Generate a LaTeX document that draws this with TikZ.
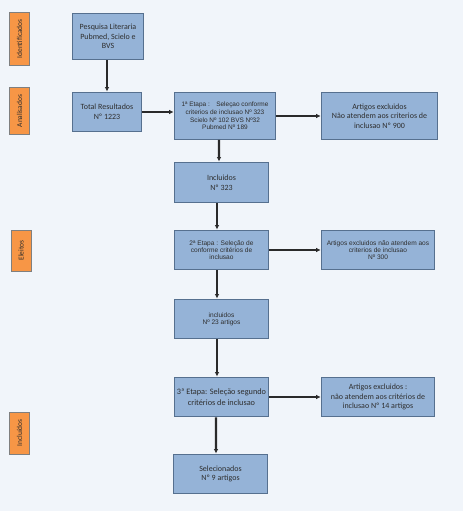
\documentclass[tikz,border=0pt]{standalone}
\usepackage{fontspec}
\setmainfont{Carlito}
\newfontfamily\arialf{Liberation Sans}
\usetikzlibrary{arrows.meta}
\definecolor{bg}{HTML}{F1F5FA}
\definecolor{bfill}{HTML}{95B3D7}
\definecolor{bdraw}{HTML}{56708F}
\definecolor{ofill}{HTML}{F79646}
\definecolor{odraw}{HTML}{7F7F7F}
\definecolor{txt}{HTML}{2E2E2E}
\definecolor{arr}{HTML}{2A2A2A}
\tikzset{
  bbox/.style={draw=bdraw, line width=1pt, fill=bfill, align=center, text=txt, inner sep=1pt, font=\fontsize{8}{9.7}\selectfont},
  abox/.style={bbox, font=\arialf\fontsize{6.6}{7.3}\selectfont},
  obox/.style={draw=odraw, line width=0.8pt, fill=ofill, align=center, text=txt, inner sep=0pt, rotate=90, font=\fontsize{7.5}{8}\selectfont},
  conn/.style={draw=arr, line width=2.4bp, -{Latex[length=4.5pt,width=4.5pt]}}
}
\begin{document}
\begin{tikzpicture}[x=1bp,y=-1bp]
\fill[bg] (0,0) rectangle (463,511);
\useasboundingbox (0,0) rectangle (463,511);
% orange stage labels
\node[obox, minimum width=54, minimum height=20] (s1) at (19.5,39) {Identificados};
\node[obox, minimum width=47, minimum height=20] (s2) at (19.5,111) {Analisados};
\node[obox, minimum width=41, minimum height=20] (s3) at (21,250.5) {Eleitos};
\node[obox, minimum width=42, minimum height=20] (s4) at (19.5,433) {Incluídos};
% blue boxes
\node[bbox, minimum width=72, minimum height=47] (n1) at (108,36.5) {Pesquisa Literaria\\Pubmed, Scielo e\\BVS};
\node[bbox, minimum width=70, minimum height=40] (n2) at (107,112) {Total Resultados\\Nº 1223};
\node[abox, minimum width=102, minimum height=47, font=\arialf\fontsize{6.5}{7.6}\selectfont] (n3) at (225,116) {1ª Etapa :\quad Seleçao conforme\\criterios de inclusao Nº 323\\Scielo Nº 102 BVS Nº32\\Pubmed Nº 189};
\node[bbox, minimum width=117, minimum height=47] (n4) at (379.5,116) {Artigos excluidos\\Não atendem aos criterios de\\inclusao Nº 900};
\node[bbox, minimum width=95, minimum height=41] (n5) at (221.5,182.5) {Incluidos\\Nº 323};
\node[abox, minimum width=95, minimum height=40] (n6) at (221.5,250) {2ª Etapa : Seleção de\\conforme critérios de\\inclusao};
\node[abox, minimum width=114, minimum height=40] (n7) at (378,250) {Artigos excluidos não atendem aos\\criterios de inclusao\\Nº 300};
\node[abox, minimum width=95, minimum height=40] (n8) at (221.5,319) {incluidos\\Nº 23 artigos};
\node[bbox, minimum width=95, minimum height=40, font=\fontsize{8.3}{10.8}\selectfont] (n9) at (221.5,397) {3ª Etapa: Seleção segundo\\critérios de inclusao};
\node[bbox, minimum width=114, minimum height=40] (n10) at (378,397) {Artigos excluidos :\\não atendem aos critérios de\\inclusao Nº 14 artigos};
\node[bbox, minimum width=95, minimum height=40] (n11) at (220.5,474) {Selecionados\\Nº 9 artigos};
% connectors
\draw[conn] (n2.north |- n1.south) -- (n2.north);
\draw[conn] (n2.east) -- (n3.west |- n2.east);
\draw[conn] (n3.east) -- (n4.west);
\draw[conn] ([xshift=-6bp]n3.south) -- ([xshift=-2.5bp]n5.north);
\draw[conn] ([xshift=-4.5bp]n5.south) -- ([xshift=-4.5bp]n6.north);
\draw[conn] (n6.east) -- (n7.west);
\draw[conn] ([xshift=-4.5bp]n6.south) -- ([xshift=-4.5bp]n8.north);
\draw[conn] ([xshift=-4.5bp]n8.south) -- ([xshift=-4.5bp]n9.north);
\draw[conn] (n9.east) -- (n10.west);
\draw[conn] ([xshift=-5.5bp]n9.south) -- ([xshift=-4.5bp]n11.north);
\end{tikzpicture}
\end{document}
